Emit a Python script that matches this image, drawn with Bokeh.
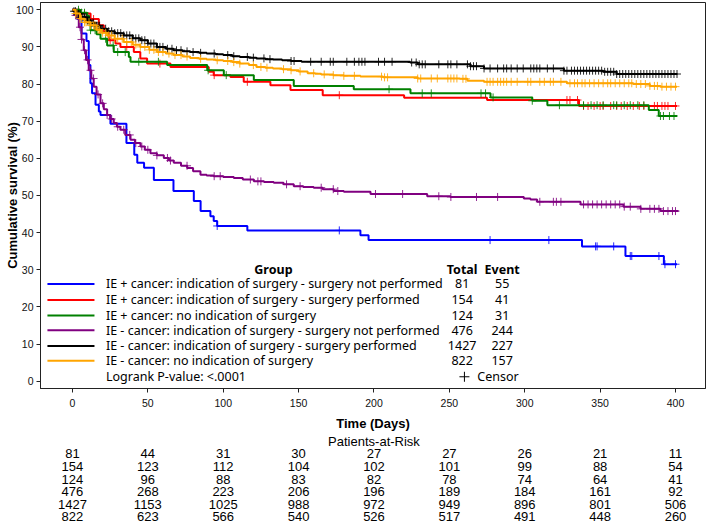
import numpy as np
from bokeh.plotting import figure
from bokeh.layouts import column
from bokeh.models import Range1d, FixedTicker
from bokeh.core.properties import value
from bokeh.embed import file_html
from bokeh.resources import INLINE

# ---------------- data ----------------
group_labels = [
    "IE + cancer: indication of surgery - surgery not performed",
    "IE + cancer: indication of surgery - surgery performed",
    "IE + cancer: no indication of surgery",
    "IE - cancer: indication of surgery - surgery not performed",
    "IE - cancer: indication of surgery - surgery performed",
    "IE - cancer: no indication of surgery",
]
group_colors = ["#0000FF", "#FF0000", "#008000", "#800080", "#000000", "#FFA500"]
totals = [81, 154, 124, 476, 1427, 822]
events = [55, 41, 31, 244, 227, 157]

x_ticks = [0, 50, 100, 150, 200, 250, 300, 350, 400]
y_ticks = [0, 10, 20, 30, 40, 50, 60, 70, 80, 90, 100]

risk_times = [0, 50, 100, 150, 200, 250, 300, 350, 400]
risk_blue = [81, 44, 31, 30, 27, 27, 26, 21, 11]
risk_red = [154, 123, 112, 104, 102, 101, 99, 88, 54]
risk_green = [124, 96, 88, 83, 82, 78, 74, 64, 41]
risk_purple = [476, 268, 223, 206, 196, 189, 184, 161, 92]
risk_black = [1427, 1153, 1025, 988, 972, 949, 896, 801, 506]
risk_orange = [822, 623, 566, 540, 526, 517, 491, 448, 260]

blue_t = [0, 3, 6, 9.3, 10.8, 11.9, 13, 15.3, 17.5, 18.6, 25.2, 35.8, 41, 43, 47.5, 54, 67, 80.5, 85,
          91.5, 93.7, 96, 116, 191, 196.4, 338, 366.8, 392.3, 401]
blue_s = [100, 97.5, 93.6, 91.6, 85.1, 80.2, 77.5, 74.4, 72.6, 71.7, 69.3, 64.1, 61.0, 58.8, 57.5, 54.2,
          51.2, 48.5, 45.8, 44.4, 43.1, 41.8, 40.6, 39.3, 38.0, 36.3, 33.7, 31.5, 31.5]
blue_c = [96, 177, 277, 316, 347, 348, 359, 370, 371, 389, 393, 400]

red_t = [0, 5, 12, 17.5, 20.8, 24, 28.5, 31.8, 40.7, 45, 49.5, 65, 90.4, 93.7, 104.8, 113.6, 131.3,
         144.6, 166, 220, 275, 336, 401]
red_s = [100, 99.0, 97.5, 95.8, 94.0, 91.8, 90.9, 90.0, 88.6, 86.9, 85.5, 84.6, 83.3, 82.4, 81.9, 80.6,
         79.7, 78.4, 77.0, 76.3, 75.7, 74.1, 74.1]
red_c = [8, 14, 25, 36, 58, 94, 116, 177, 328, 330, 335, 339, 342, 346, 350, 352, 357, 361, 364, 368,
         372, 376, 379, 386, 388, 391, 393, 395, 400]

green_t = [0, 5, 9.7, 11, 12, 16, 18.6, 23, 27.4, 37.4, 38.5, 62.8, 89.4, 100.4, 120.3, 146.8, 186.6,
           224.2, 277.3, 305, 315, 382.3, 388.9, 401]
green_s = [100, 99.2, 98.4, 96.5, 94.5, 93.4, 92.2, 90.4, 88.6, 87.3, 86.0, 85.1, 83.7, 82.4, 81.1, 79.5,
           78.6, 77.5, 76.4, 75.5, 74.3, 73.0, 71.4, 71.4]
green_c = [4, 6, 8, 12, 15, 22, 27, 30, 35, 44, 57, 90, 102, 210, 232, 238, 271, 274, 279, 305, 323, 339,
           344, 348, 352, 359, 361, 366, 370, 375, 379, 390, 392, 396, 399]

purple_t = [0, 2, 4.2, 6, 7.5, 9, 10.8, 12.5, 14.1, 16, 18.6, 20.8, 23, 25, 27.4, 29.5, 31.8, 35, 38.5,
            41.5, 45.1, 48, 51.7, 56, 60.6, 64, 67.2, 72, 76.1, 80, 84.9, 89, 93.7, 100, 107, 113, 120.3,
            127, 133.5, 140, 146.8, 153, 160, 166, 173.3, 180, 197.7, 235.3, 250.7, 299.4, 303.8, 308.2,
            337, 365.5, 376.8, 390, 402]
purple_s = [100, 98.5, 95.3, 92, 89.1, 86.5, 83.7, 81.5, 79.3, 77.2, 74.8, 73.2, 71.7, 70.6, 69.5, 68.5,
            67.7, 66.3, 65.0, 64.1, 63.2, 62.3, 61.4, 60.8, 60.1, 59.4, 58.8, 58.0, 57.4, 56.5, 55.6, 55.4,
            55.2, 55.0, 54.7, 54.3, 53.8, 53.6, 53.4, 53.0, 52.5, 52.3, 52.1, 51.7, 51.2, 51.0, 50.4, 49.8,
            49.6, 49.2, 48.9, 48.3, 47.6, 47.0, 46.4, 45.8, 45.8]
purple_c = [2, 3, 5, 6, 8, 10, 12, 14, 17, 20, 23, 26, 30, 34, 38, 42, 46, 50, 56, 63, 65, 76, 94, 98,
            118, 123, 125, 142, 151, 165, 173, 176, 201, 219, 243, 251, 268, 282, 310, 319, 321, 324, 339,
            342, 345, 348, 351, 354, 357, 360, 363, 366, 370, 377, 383, 386, 389, 392, 395, 398, 400]

black_t = [0, 1, 3, 6, 9.7, 12, 15, 18.6, 23, 28, 34, 40, 45, 50, 56, 62, 67, 73, 78, 84, 89, 95, 100,
           106, 111, 117, 122, 128, 133, 139, 145, 152, 224, 229, 264, 273, 326, 352, 361, 401]
black_s = [100, 99.6, 98.9, 98.0, 97.1, 96.5, 95.7, 94.9, 94.2, 93.7, 93.1, 92.3, 91.8, 90.9, 90.0, 89.5,
           89.1, 88.8, 88.6, 88.4, 88.2, 88.0, 87.8, 87.5, 87.3, 87.1, 86.9, 86.7, 86.6, 86.4, 86.2, 86.0,
           85.8, 85.3, 84.8, 84.2, 83.6, 83.3, 82.7, 82.7]
black_c = [1, 2, 3, 4, 5, 6, 7, 8, 9, 10, 11, 12, 13, 14, 15, 16, 17, 18, 19, 20, 22, 24, 26, 28, 30, 32,
           34, 36, 38, 40, 42, 44, 46, 48, 50, 52, 54, 56, 58, 60, 63, 66, 69, 72, 76, 80, 85, 94, 103,
           107, 116, 120, 127, 131, 145, 147, 158, 165, 171, 173, 182, 187, 190, 192, 194, 203, 207, 212,
           225, 228, 230, 232, 234, 243, 249, 251, 255, 262, 264, 266, 268, 273, 277, 282, 286, 288, 291,
           295, 299, 304, 306, 308, 310, 315, 319, 326, 328, 331, 333, 335, 337, 339, 341, 343, 345, 347,
           349, 351, 353, 355, 357, 359, 361, 363, 365, 367, 369, 371, 373, 375, 377, 379, 381, 383, 385,
           387, 389, 391, 393, 395, 397, 399, 401]

orange_t = [0, 2, 5, 8, 12, 16, 19, 23, 28, 34, 40, 45, 51, 56, 62, 67, 73, 78, 84, 89, 95, 100, 106,
            111, 117, 122, 128, 133, 139, 145, 150, 156, 161, 165, 173, 180, 191, 206, 229, 257, 262, 273,
            328, 372, 383, 390, 401]
orange_s = [100, 99.0, 97.6, 96.6, 95.8, 94.6, 93.8, 93.1, 92.2, 91.3, 90.6, 90.0, 89.2, 88.6, 88.2, 87.8,
            87.4, 87.0, 86.8, 86.6, 86.4, 86.2, 85.9, 85.5, 85.1, 84.6, 84.4, 84.2, 84.0, 83.7, 83.4, 82.9,
            82.8, 82.6, 82.4, 82.2, 82.0, 81.8, 81.5, 81.4, 80.9, 80.6, 80.2, 80.0, 79.5, 79.3, 79.3]
orange_c = [2, 3, 5, 6, 8, 9, 11, 12, 14, 15, 17, 18, 20, 22, 24, 26, 28, 30, 33, 36, 39, 42, 45, 48, 51,
            54, 57, 60, 64, 68, 72, 76, 85, 96, 103, 107, 111, 120, 125, 129, 140, 145, 151, 160, 167, 173,
            180, 187, 205, 207, 209, 229, 231, 238, 242, 249, 251, 253, 255, 259, 261, 275, 277, 279, 282,
            284, 286, 288, 291, 295, 302, 304, 310, 313, 317, 319, 324, 330, 333, 335, 338, 340, 343, 346,
            349, 352, 355, 357, 360, 363, 366, 369, 371, 374, 377, 380, 383, 386, 388, 391, 394, 397, 400]

curves = [
    (blue_t, blue_s, blue_c),
    (red_t, red_s, red_c),
    (green_t, green_s, green_c),
    (purple_t, purple_s, purple_c),
    (black_t, black_s, black_c),
    (orange_t, orange_s, orange_c),
]
risk_rows = [risk_blue, risk_red, risk_green, risk_purple, risk_black, risk_orange]

# ---------------- styling ----------------
AX_FONT = "Liberation Sans"
LEG_FONT = value("Noto Sans")
LEFT = 40
RIGHT = 3
MAIN_H = 433
TABLE_H = 91

p = figure(width=708, height=MAIN_H, x_range=Range1d(-21.2, 419.9), y_range=Range1d(-1.955, 101.95),
           output_backend="svg", toolbar_location=None,
           min_border_left=LEFT, min_border_right=RIGHT, min_border_top=2, min_border_bottom=43)
p.grid.visible = False
p.outline_line_color = "#222222"
p.outline_line_width = 1
p.background_fill_color = "white"

p.xaxis.ticker = FixedTicker(ticks=x_ticks)
p.yaxis.ticker = FixedTicker(ticks=y_ticks)
for ax in (p.xaxis[0], p.yaxis[0]):
    ax.axis_line_color = "#222222"
    ax.major_tick_line_color = "#222222"
    ax.major_tick_in = 0
    ax.major_tick_out = 4
    ax.minor_tick_line_color = None
    ax.major_label_text_font = AX_FONT
    ax.major_label_text_font_size = "10.5px"
    ax.major_label_text_color = "#111111"
    ax.axis_label_text_font = AX_FONT
    ax.axis_label_text_font_size = "13px"
    ax.axis_label_text_font_style = "bold"
    ax.axis_label_text_color = "black"
p.xaxis.axis_label = "Time (Days)"
p.yaxis.axis_label = "Cumulative survival (%)"
p.xaxis.major_label_standoff = 6
p.xaxis.axis_label_standoff = 6
p.yaxis.major_label_standoff = 3
p.yaxis.axis_label_standoff = -7

# curves + censor marks
for (tt, ss, cc), col in zip(curves, group_colors):
    p.step(x=tt, y=ss, mode="after", line_color=col, line_width=2)
    ta = np.array(tt, dtype=float)
    sa = np.array(ss, dtype=float)
    ca = np.array(cc, dtype=float)
    idx = np.searchsorted(ta, ca, side="right") - 1
    p.scatter(x=ca, y=sa[idx], marker="cross", size=8, line_color=col, line_width=1, line_alpha=0.85)

# legend block (inside plot, data coordinates)
row_y = [26.2, 21.9, 17.7, 13.7, 9.5, 5.5]
logrank_y = 1.2
header_y = 30.0
seg_x0, seg_x1 = -16.6, 14.6
text_x = 22.2
total_x, event_x = 258.5, 285.0

p.segment(x0=[seg_x0] * 6, y0=row_y, x1=[seg_x1] * 6, y1=row_y, line_color=group_colors, line_width=2)
p.text(x=[text_x] * 6, y=row_y, text=group_labels, text_font=LEG_FONT, text_font_size="12.5px",
       text_baseline="middle", text_align="left", text_color="black")
p.text(x=[total_x] * 6, y=row_y, text=[str(v) for v in totals], text_font=LEG_FONT,
       text_font_size="12.5px", text_baseline="middle", text_align="center", text_color="black")
p.text(x=[event_x] * 6, y=row_y, text=[str(v) for v in events], text_font=LEG_FONT,
       text_font_size="12.5px", text_baseline="middle", text_align="center", text_color="black")
p.text(x=[133.3, total_x, event_x], y=[header_y] * 3, text=["Group", "Total", "Event"],
       text_font=LEG_FONT, text_font_size="12.5px", text_font_style="bold",
       text_baseline="middle", text_align="center", text_color="black")
p.text(x=[text_x], y=[logrank_y], text=["Logrank P-value: <.0001"], text_font=LEG_FONT,
       text_font_size="12.5px", text_baseline="middle", text_align="left", text_color="black")
p.scatter(x=[260], y=[logrank_y], marker="cross", size=10, line_color="black", line_width=1)
p.text(x=[268.5], y=[logrank_y], text=["Censor"], text_font=LEG_FONT, text_font_size="12.5px",
       text_baseline="middle", text_align="left", text_color="black")

# ---------------- patients-at-risk table ----------------
t = figure(width=708, height=TABLE_H, x_range=p.x_range, y_range=Range1d(TABLE_H, 0),
           output_backend="svg", toolbar_location=None, x_axis_location=None, y_axis_location=None,
           min_border_left=LEFT, min_border_right=RIGHT, min_border_top=0, min_border_bottom=0)
t.grid.visible = False
t.outline_line_color = None
t.text(x=[200], y=[7.5], text=["Patients-at-Risk"], text_font=value(AX_FONT), text_font_size="13px",
       text_baseline="middle", text_align="center", text_color="black")
first_row_y = 20.3
row_gap = 12.6
for i, row in enumerate(risk_rows):
    t.text(x=risk_times, y=[first_row_y + row_gap * i] * len(risk_times), text=[str(v) for v in row],
           text_font=value("Liberation Sans Narrow, Liberation Sans"), text_font_size="13px",
           text_baseline="middle", text_align="center", text_color="black")

layout = column(p, t, spacing=0)
open("out.html", "w").write(file_html(layout, INLINE))
